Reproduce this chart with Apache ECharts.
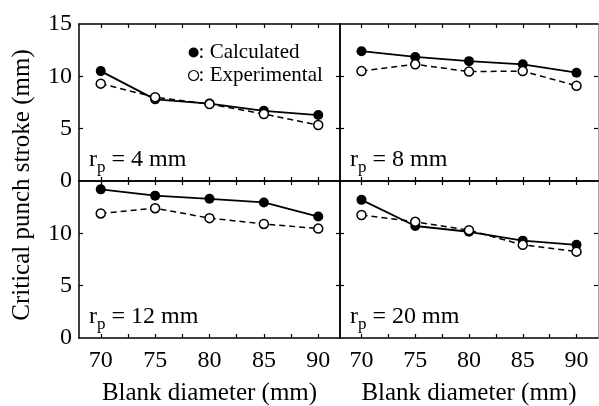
<!DOCTYPE html>
<html>
<head>
<meta charset="utf-8">
<script src="https://cdn.jsdelivr.net/npm/echarts@6/dist/echarts.min.js"></script>
<style>
  html, body { margin: 0; padding: 0; background: #fff; }
  #chart { width: 599px; height: 406px; }
</style>
</head>
<body>
<div id="chart"></div>
<script>
// blank diameter (mm)
const diameters = [70, 75, 80, 85, 90];
const xTickLabels = [70, 75, 80, 85, 90];
const xTicks = [70, 72.5, 75, 77.5, 80, 82.5, 85, 87.5, 90];
const yTicks = [5, 10];
const yLabelsTop = [0, 5, 10, 15];
const yLabelsBottom = [0, 5, 10];

// critical punch stroke (mm) per punch radius
const panelNames = ["4", "8", "12", "20"];
const calc4 = [10.5, 7.8, 7.4, 6.7, 6.3];
const exp4 = [9.3, 8.0, 7.35, 6.4, 5.35];
const calc8 = [12.4, 11.85, 11.45, 11.15, 10.35];
const exp8 = [10.5, 11.15, 10.45, 10.5, 9.1];
const calc12 = [14.2, 13.6, 13.3, 12.95, 11.6];
const exp12 = [11.9, 12.4, 11.45, 10.9, 10.45];
const calc20 = [13.2, 10.7, 10.15, 9.3, 8.9];
const exp20 = [11.75, 11.1, 10.3, 8.9, 8.25];

const calcSets = [calc4, calc8, calc12, calc20];
const expSets = [exp4, exp8, exp12, exp20];

const FONT = "Liberation Serif";
const chart = echarts.init(document.getElementById("chart"));

const grids = [
  { left: 79, top: 24, width: 261, height: 157 },
  { left: 340, top: 24, width: 258, height: 157 },
  { left: 79, top: 181, width: 261, height: 157 },
  { left: 340, top: 181, width: 258, height: 157 },
];

const xAxes = [];
const yAxes = [];
const series = [];

grids.forEach((g, i) => {
  const bottomRow = i >= 2;
  const leftCol = i % 2 === 0;
  ["bottom", "top"].forEach((pos) => {
    const labelled = bottomRow && pos === "bottom";
    xAxes.push({
      type: "value",
      gridIndex: i,
      position: pos,
      min: 68,
      max: 92,
      axisLine: { show: true, onZero: false, lineStyle: { color: "#000", width: 1.5 } },
      axisTick: {
        show: true,
        inside: true,
        length: 4,
        customValues: xTicks,
        lineStyle: { color: "#000", width: 1.2 },
      },
      axisLabel: {
        show: labelled,
        customValues: xTickLabels,
        color: "#000",
        fontFamily: FONT,
        fontSize: 24,
        margin: 11,
      },
      splitLine: { show: false },
      name: labelled ? "Blank diameter (mm)" : "",
      nameLocation: "middle",
      nameGap: 43,
      nameTextStyle: { color: "#000", fontFamily: FONT, fontSize: 25 },
    });
  });
  ["left", "right"].forEach((pos) => {
    const labelled = leftCol && pos === "left";
    const faint = !leftCol && pos === "right";
    yAxes.push({
      type: "value",
      gridIndex: i,
      position: pos,
      min: 0,
      max: 15,
      axisLine: {
        show: true,
        onZero: false,
        lineStyle: { color: faint ? "#aaa" : "#000", width: faint ? 1 : 1.5 },
      },
      axisTick: {
        show: true,
        inside: true,
        length: 4,
        customValues: yTicks,
        lineStyle: { color: "#000", width: 1.2 },
      },
      axisLabel: {
        show: labelled,
        customValues: bottomRow ? yLabelsBottom : yLabelsTop,
        color: "#000",
        fontFamily: FONT,
        fontSize: 24,
        margin: 7,
      },
      splitLine: { show: false },
    });
  });

  series.push({
    name: "Calculated",
    type: "line",
    xAxisIndex: i * 2,
    yAxisIndex: i * 2,
    data: diameters.map((d, k) => [d, calcSets[i][k]]),
    symbol: "circle",
    symbolSize: 10,
    lineStyle: { color: "#000", width: 1.8 },
    itemStyle: { color: "#000" },
    z: 3,
  });
  series.push({
    name: "Experimental",
    type: "line",
    xAxisIndex: i * 2,
    yAxisIndex: i * 2,
    data: diameters.map((d, k) => [d, expSets[i][k]]),
    symbol: "circle",
    symbolSize: 9,
    lineStyle: { color: "#000", width: 1.5, type: [6, 4] },
    itemStyle: { color: "#fff", borderColor: "#000", borderWidth: 1.5 },
    z: 4,
  });
});

const panelLabels = grids.map((g, i) => ({
  type: "text",
  left: g.left + 10,
  top: g.top + 124,
  style: {
    text: "{r|r}{p|p}{r| = " + panelNames[i] + " mm}",
    rich: {
      r: { fontFamily: FONT, fontSize: 24, fill: "#000", verticalAlign: "middle", lineHeight: 24 },
      p: { fontFamily: FONT, fontSize: 17, fill: "#000", verticalAlign: "bottom", lineHeight: 33 },
    },
  },
}));

chart.setOption({
  backgroundColor: "#fff",
  animation: false,
  grid: grids.map((g) => Object.assign({ containLabel: false, outerBoundsMode: "none" }, g)),
  xAxis: xAxes,
  yAxis: yAxes,
  series,
  legend: {
    orient: "vertical",
    left: 183,
    top: 37,
    itemGap: 2,
    itemWidth: 10,
    itemHeight: 10,
    formatter: ": {name}",
    textStyle: { color: "#000", fontFamily: FONT, fontSize: 21, padding: [0, 0, 0, -5] },
    data: [
      { name: "Calculated", icon: "circle", itemStyle: { color: "#000" } },
      {
        name: "Experimental",
        icon: "circle",
        itemStyle: { color: "#fff", borderColor: "#000", borderWidth: 1.2 },
      },
    ],
  },
  graphic: [
    {
      type: "text",
      x: 22,
      y: 185,
      rotation: Math.PI / 2,
      style: {
        text: "Critical punch stroke (mm)",
        fontFamily: FONT,
        fontSize: 25,
        fill: "#000",
        align: "center",
        verticalAlign: "middle",
      },
    },
    ...panelLabels,
  ],
});
</script>
</body>
</html>
